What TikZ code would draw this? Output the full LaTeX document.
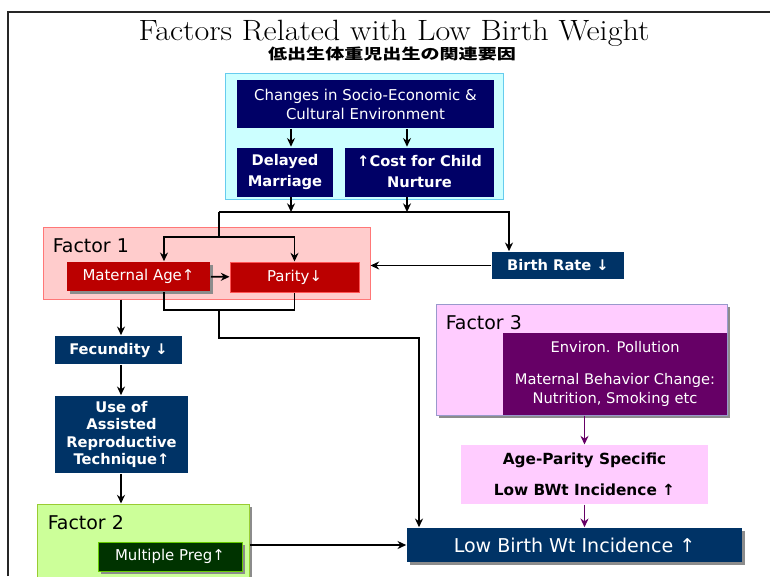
\documentclass[tikz,border=0pt]{standalone}
\usepackage{fontspec}
\setsansfont{DejaVu Sans}
\newfontfamily\jpfont{Noto Sans CJK JP}
\usepackage{tikz}
\usetikzlibrary{arrows.meta, positioning, calc, shadows}

\definecolor{navy}{HTML}{000066}
\definecolor{ocean}{HTML}{003366}
\definecolor{aqua}{HTML}{CCFFFF}
\definecolor{aqualine}{HTML}{66CCEE}
\definecolor{rose}{HTML}{FFCCCC}
\definecolor{roseline}{HTML}{FF7777}
\definecolor{crimson}{HTML}{BB0000}
\definecolor{crimsonline}{HTML}{FF5555}
\definecolor{leaf}{HTML}{CCFF99}
\definecolor{leafline}{HTML}{99CC33}
\definecolor{forest}{HTML}{003300}
\definecolor{forestline}{HTML}{66CC00}
\definecolor{lilac}{HTML}{FFCCFF}
\definecolor{lilacline}{HTML}{9999CC}
\definecolor{plum}{HTML}{660066}

\begin{document}
\begin{tikzpicture}[
    x=0.75pt, y=-0.75pt,
    font=\sffamily,
    line width=1.2pt,
    >={Stealth[length=6.5pt, width=6pt]},
    darkbox/.style={rectangle, fill=#1, text=white, inner sep=1pt, align=center},
    panelbox/.style={rectangle, fill=#1, inner sep=0pt, line width=0.75pt},
    facname/.style={anchor=base west, inner sep=0pt, font=\sffamily\fontsize{14.2}{16}\selectfont},
    castshadow/.style={drop shadow={shadow xshift=2.25pt, shadow yshift=-2.25pt, fill=black!45, opacity=1}},
    boldtext/.style={font=\sffamily\bfseries\fontsize{11}{#1}\selectfont},
    plaintext/.style={font=\sffamily\fontsize{11.2}{#1}\selectfont},
]
    \path[use as bounding box, clip] (0,0) rectangle (770,576);

    \draw[line width=1.5pt, black!85] (8,576) -- (8,12) -- (770,12);
    \node[anchor=base, inner sep=0pt, font=\rmfamily\fontsize{22}{24}\selectfont] (title) at (394,40.5) {\scalebox{1.095}[1]{Factors Related with Low Birth Weight}};
    \node[anchor=base, inner sep=0pt, font=\jpfont\bfseries\fontsize{11}{13}\selectfont] (subtitle) at (392,59.5) {\scalebox{1.3}[1]{低出生体重児出生の関連要因}};

    \node[panelbox=aqua, draw=aqualine, minimum width=208.5pt, minimum height=94.5pt] (env) at (364,136) {};
    \node[darkbox=navy, plaintext=14.3pt, minimum width=192.75pt, minimum height=36pt] (changes) at (365.5,104) {Changes in Socio-Economic \&\\Cultural Environment};
    \node[darkbox=navy, boldtext=15.75pt, minimum width=72pt, minimum height=36.75pt] (delay) at (285,172) {Delayed\\Marriage};
    \node[darkbox=navy, boldtext=15.75pt, minimum width=111.75pt, minimum height=36.75pt] (cost) at (419.5,172) {↑Cost for Child\\Nurture};

    \node[darkbox=ocean, boldtext=13pt, minimum width=99pt, minimum height=20.25pt] (birth) at (558,265.5) {Birth Rate ↓};

    \node[panelbox=rose, draw=roseline, minimum width=245.25pt, minimum height=54pt] (fac1) at (206.5,263) {};
    \node[facname] (fac1name) at (52,252) {Factor 1};
    \node[darkbox=crimson, castshadow, plaintext=13pt, minimum width=107.25pt, minimum height=21.75pt] (matage) at (138.5,276.5) {Maternal Age↑};
    \node[darkbox=crimson, draw=crimsonline, line width=0.75pt, plaintext=13pt, minimum width=96.75pt, minimum height=22.5pt] (parity) at (294.5,277) {Parity↓};

    \node[darkbox=ocean, boldtext=13pt, minimum width=95.25pt, minimum height=21pt] (fecund) at (118.5,350) {Fecundity ↓};
    \node[darkbox=ocean, boldtext=13pt, minimum width=99.75pt, minimum height=57.75pt] (art) at (121.5,434.5) {Use of\\Assisted\\Reproductive\\Technique↑};

    \node[panelbox=leaf, draw=leafline, castshadow, minimum width=159pt, minimum height=69pt] (fac2) at (143,550) {};
    \node[facname] (fac2name) at (47,529) {Factor 2};
    \node[darkbox=forest, draw=forestline, line width=0.75pt, castshadow, plaintext=13pt, minimum width=108pt, minimum height=21.75pt] (multi) at (170,556.5) {Multiple Preg↑};

    \node[panelbox=lilac, draw=lilacline, castshadow, minimum width=218.25pt, minimum height=83.25pt] (fac3) at (581.5,359.5) {};
    \node[facname] (fac3name) at (445,329) {Factor 3};
    \node[darkbox=plum, font=\sffamily\fontsize{11}{14.25pt}\selectfont, minimum width=168pt, minimum height=61.5pt] (pollut) at (615,374) {Environ. Pollution\\[9.75pt]Maternal Behavior Change:\\Nutrition, Smoking etc};
    \node[panelbox=lilac, align=center, font=\sffamily\bfseries\fontsize{11.5}{13pt}\selectfont, minimum width=185.25pt, minimum height=44.25pt] (agepar) at (584.5,474.5) {Age-Parity Specific\\[10.25pt]Low BWt Incidence ↑};

    \node[darkbox=ocean, castshadow, font=\sffamily\fontsize{14.3}{16}\selectfont, minimum width=251.25pt, minimum height=25.5pt] (lbw) at (574.5,545) {Low Birth Wt Incidence ↑};

    \coordinate (colA) at (291,0);
    \coordinate (colB) at (407,0);
    \coordinate (colM) at (164,0);
    \coordinate (colF) at (121,0);
    \coordinate (brx) at (509,0);
    \coordinate (merge) at (219,212);
    \coordinate (fork) at (219,237);
    \coordinate (join) at (219,310);
    \coordinate (drop) at (419,338);

    \draw[->] (changes.south -| colA) -- (delay.north -| colA);
    \draw[->] (changes.south -| colB) -- (cost.north -| colB);
    \draw[->] (delay.south -| colA) -- (colA |- merge);
    \draw[->] (cost.south -| colB) -- (colB |- merge);
    \draw[->] (merge) -| (birth.north -| brx);
    \draw (merge) -- (fork);
    \draw[->] (fork) -| (matage.north -| colM);
    \draw[->] (fork) -| (parity.north);
    \draw[->] (matage) -- (parity);
    \draw[->] (birth) -- (birth -| fac1.east);
    \draw (matage.south -| colM) |- (join) -| (parity.south);
    \draw[->] (join) |- (drop) -- (drop |- lbw.north);

    \draw[->] (fac1.south -| colF) -- (fecund.north -| colF);
    \draw[->] (fecund.south -| colF) -- (art.north -| colF);
    \draw[->] (art.south -| colF) -- (fac2.north -| colF);
    \draw[->] (fac2.east |- lbw) -- (lbw);

    \draw[->, plum, line width=1pt] (agepar.north |- fac3.south) -- (agepar);
    \draw[->, plum, line width=1pt] (agepar) -- (agepar.south |- lbw.north);

\end{tikzpicture}
\end{document}
